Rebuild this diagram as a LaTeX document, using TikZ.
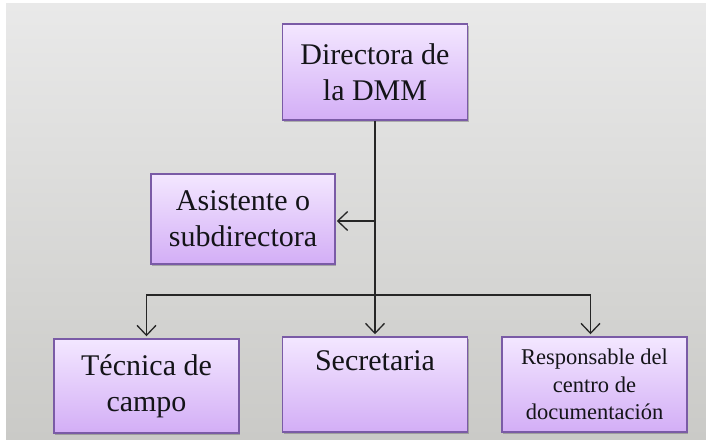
\documentclass[tikz,border=0pt]{standalone}
\usepackage{fontspec}
\setmainfont{Liberation Serif}
\usetikzlibrary{arrows.meta,shadows,calc}
\definecolor{bgtop}{HTML}{E9E9E9}
\definecolor{bgbot}{HTML}{CACAC7}
\definecolor{boxtop}{HTML}{F3E7FF}
\definecolor{boxbot}{HTML}{D3AEF6}
\definecolor{boxline}{HTML}{7A5BA6}
\definecolor{txt}{HTML}{141418}
\tikzset{
  orgbox/.style={draw=boxline, line width=1.5pt, top color=boxtop, bottom color=boxbot,
    inner sep=0pt, align=center, text=txt,
    drop shadow={shadow xshift=1.2pt, shadow yshift=-2pt, opacity=0.35, fill=black!70}},
  bigtext/.style={font=\fontsize{30}{36}\selectfont},
  smalltext/.style={font=\fontsize{22.5}{27.5}\selectfont},
  conn/.style={draw=black!85, line width=1.5pt, -{Straight Barb[length=10pt,width=19pt,line width=1.3pt]}},
  plain/.style={draw=black!85, line width=1.5pt}
}
\begin{document}
\begin{tikzpicture}[x=1pt,y=-1pt]
\useasboundingbox (0,0) rectangle (706,439);
\fill[top color=bgtop, bottom color=bgbot] (6,3) rectangle (706,439);

\node[orgbox, bigtext, minimum width=185pt, minimum height=96pt] (dir) at (375,72) {Directora de\\la DMM};
\node[orgbox, bigtext, minimum width=184pt, minimum height=90pt] (asis) at (243,219) {Asistente o\\subdirectora};
\node[orgbox, bigtext, minimum width=185pt, minimum height=94pt] (tec) at (146.5,386) {Técnica de\\campo};
\node[orgbox, minimum width=185pt, minimum height=95pt] (sec) at (375,384.5) {};
\node[bigtext, text=txt, anchor=base] (sectxt) at (375,370) {Secretaria};
\node[orgbox, smalltext, minimum width=185pt, minimum height=95pt] (resp) at (594.5,384.5) {Responsable del\\centro de\\documentación};

\coordinate (hub) at (dir.south |- 0,295);
\coordinate (side) at (dir.south |- 0,221);
\coordinate (asisin) at (asis.east |- side);
\draw[conn, shorten >=2pt] (dir.south) -- (sec.north);
\draw[conn, shorten >=1pt] (side) -- (asisin);
\draw[conn, shorten >=2pt] (hub) -| (tec.north);
\draw[conn, shorten >=2pt] (hub) -| ($(resp.north)+(-4,0)$);
\end{tikzpicture}
\end{document}
